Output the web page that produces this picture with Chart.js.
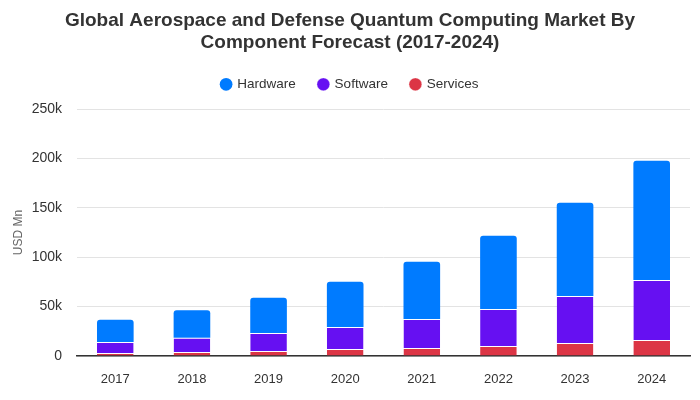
<!DOCTYPE html>
<html>
<head>
<meta charset="utf-8">
<script src="https://cdn.jsdelivr.net/npm/chart.js@4"></script>
<style>
  html, body { margin: 0; padding: 0; background: #fff; }
  #wrap { width: 700px; height: 400px; }
</style>
</head>
<body>
<div id="wrap"><canvas id="c" width="700" height="400"></canvas></div>
<script>
const categories = ["2017", "2018", "2019", "2020", "2021", "2022", "2023", "2024"];
const hardware = [22.5, 27.7, 35.7, 45.8, 58.0, 74.2, 94.5, 120.7];
const software = [11.2, 14.5, 18.3, 22.4, 29.3, 37.5, 47.5, 60.7];
const services = [3.0, 4.0, 5.0, 7.0, 8.1, 10.1, 13.2, 16.2];
const yTicks = [0, 50, 100, 150, 200, 250];
const yTickLabels = ["0", "50k", "100k", "150k", "200k", "250k"];

const FONT = "'Liberation Sans', Arial, Helvetica, sans-serif";
Chart.defaults.font.family = FONT;
Chart.defaults.color = "#333";

const legendSpacer = {
  id: "legendSpacer",
  beforeInit(chart) {
    const origFit = chart.legend.fit;
    chart.legend.fit = function () {
      origFit.bind(chart.legend)();
      this.height += 8;
    };
  }
};

new Chart(document.getElementById("c"), {
  type: "bar",
  plugins: [legendSpacer],
  data: {
    labels: categories,
    datasets: [
      { label: "Services", data: services, backgroundColor: "#dc3545", borderColor: "#fff", borderWidth: {top: 1, left: 0, right: 0, bottom: 0}, borderSkipped: "bottom" },
      { label: "Software", data: software, backgroundColor: "#6610f2", borderColor: "#fff", borderWidth: {top: 1, left: 0, right: 0, bottom: 0}, borderSkipped: "bottom" },
      { label: "Hardware", data: hardware, backgroundColor: "#007bff", borderColor: "#fff", borderWidth: 0, borderRadius: {topLeft: 3, topRight: 3, bottomLeft: 0, bottomRight: 0}, borderSkipped: "bottom" }
    ]
  },
  options: {
    responsive: false,
    animation: false,
    layout: { padding: { left: 10, right: 10, top: 9, bottom: 0 } },
    datasets: { bar: { barPercentage: 0.478, categoryPercentage: 1.0 } },
    plugins: {
      title: {
        display: true,
        text: ["Global Aerospace and Defense Quantum Computing Market By", "Component Forecast (2017-2024)"],
        font: { size: 19, weight: "bold", family: FONT },
        color: "#333",
        lineHeight: 1.21,
        padding: { top: 0, bottom: 0 }
      },
      legend: {
        reverse: true,
        labels: {
          usePointStyle: true,
          pointStyle: "circle",
          boxWidth: 9,
          boxHeight: 9,
          padding: 23,
          font: { size: 13.5, family: FONT },
          color: "#333"
        }
      },
      tooltip: { enabled: false }
    },
    scales: {
      x: {
        stacked: true,
        afterFit: (s) => { s.height = 44; },
        grid: { display: false, drawTicks: false },
        border: { display: true, color: "#333", width: 1.5 },
        ticks: { font: { size: 13 }, color: "#333", padding: 16 }
      },
      y: {
        stacked: true,
        min: 0,
        max: 250,
        afterFit: (s) => { s.width = 67; },
        afterBuildTicks: (axis) => { axis.ticks = yTicks.map(v => ({ value: v })); },
        grid: { color: "#e3e3e3", drawTicks: false, lineWidth: 1 },
        border: { display: false },
        ticks: {
          font: { size: 14 },
          color: "#333",
          padding: 15,
          callback: (v) => yTickLabels[yTicks.indexOf(v)]
        },
        title: { display: true, text: "USD Mn", color: "#666", font: { size: 12 }, padding: { top: 1, bottom: 0 } }
      }
    }
  }
});
</script>
</body>
</html>
